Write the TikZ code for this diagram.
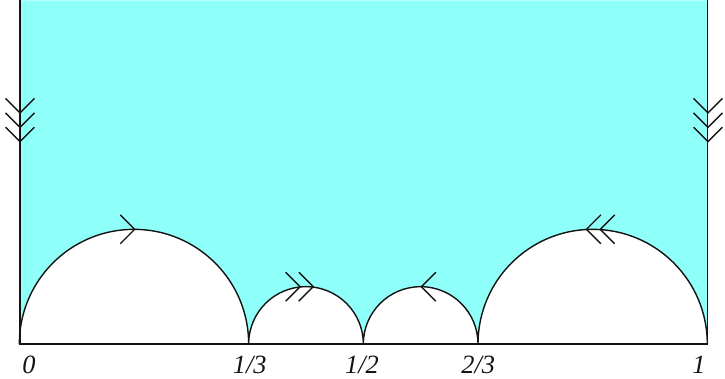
\documentclass[tikz,border=0pt]{standalone}
\usepackage{fontspec}
\setmainfont{Liberation Serif}
\definecolor{sky}{HTML}{8FFFFA}
\definecolor{ink}{HTML}{141414}
\newcommand{\TopY}{0.5}
\newcommand{\ChevArm}{0.021}
\newcommand{\LabelY}{-0.043}

\begin{document}
\begin{tikzpicture}[
    scale=13.76,
    rim/.style={draw=ink, line width=0.8pt},
    chev/.style={draw=ink, line width=0.8pt},
    cusp/.style={font=\fontsize{15}{17}\selectfont\itshape, text=ink, inner sep=0pt},
  ]
\useasboundingbox (-0.02907,-0.04942) rectangle (1.02471,\TopY);

% The cusps on the real line, and the top corners of the strip.
\coordinate (c0) at (0,0);
\coordinate (c13) at (1/3,0);
\coordinate (c12) at (1/2,0);
\coordinate (c23) at (2/3,0);
\coordinate (c1) at (1,0);
\coordinate (t0) at (0,\TopY);
\coordinate (t1) at (1,\TopY);

% The domain: the strip above the four half circles.
\fill[sky] (c0) -- (t0) -- (t1) -- (c1)
  arc[start angle=0, end angle=180, radius=1/6]
  arc[start angle=0, end angle=180, radius=1/12]
  arc[start angle=0, end angle=180, radius=1/12]
  arc[start angle=0, end angle=180, radius=1/6] -- cycle;

\draw[rim] (t0) -- (c0) -- (c1) -- (t1);
\draw[rim] (c1) arc[start angle=0, end angle=180, radius=1/6]
  arc[start angle=0, end angle=180, radius=1/12]
  arc[start angle=0, end angle=180, radius=1/12]
  arc[start angle=0, end angle=180, radius=1/6];

% Side pairings: chevrons at the tops of the arcs and on the two walls.
\foreach \x/\y/\ang in {0.1667/0.1667/0, 0.4072/0.0833/0, 0.4262/0.0833/0, 0.5833/0.0833/180,
    0.8233/0.1667/180, 0.8433/0.1667/180,
    0/0.336/-90, 0/0.315/-90, 0/0.294/-90,
    1/0.336/-90, 1/0.315/-90, 1/0.294/-90} {
  \draw[chev, shift={(\x,\y)}, rotate=\ang] (-\ChevArm,\ChevArm) -- (0,0) -- (-\ChevArm,-\ChevArm);
}

\node[cusp, anchor=base west] (l0) at (0.003,\LabelY) {0};
\node[cusp, anchor=base] (l13) at (0.334,\LabelY) {1/3};
\node[cusp, anchor=base] (l12) at (0.497,\LabelY) {1/2};
\node[cusp, anchor=base] (l23) at (0.666,\LabelY) {2/3};
\node[cusp, anchor=base east] (l1) at (0.997,\LabelY) {1};

\end{tikzpicture}
\end{document}
